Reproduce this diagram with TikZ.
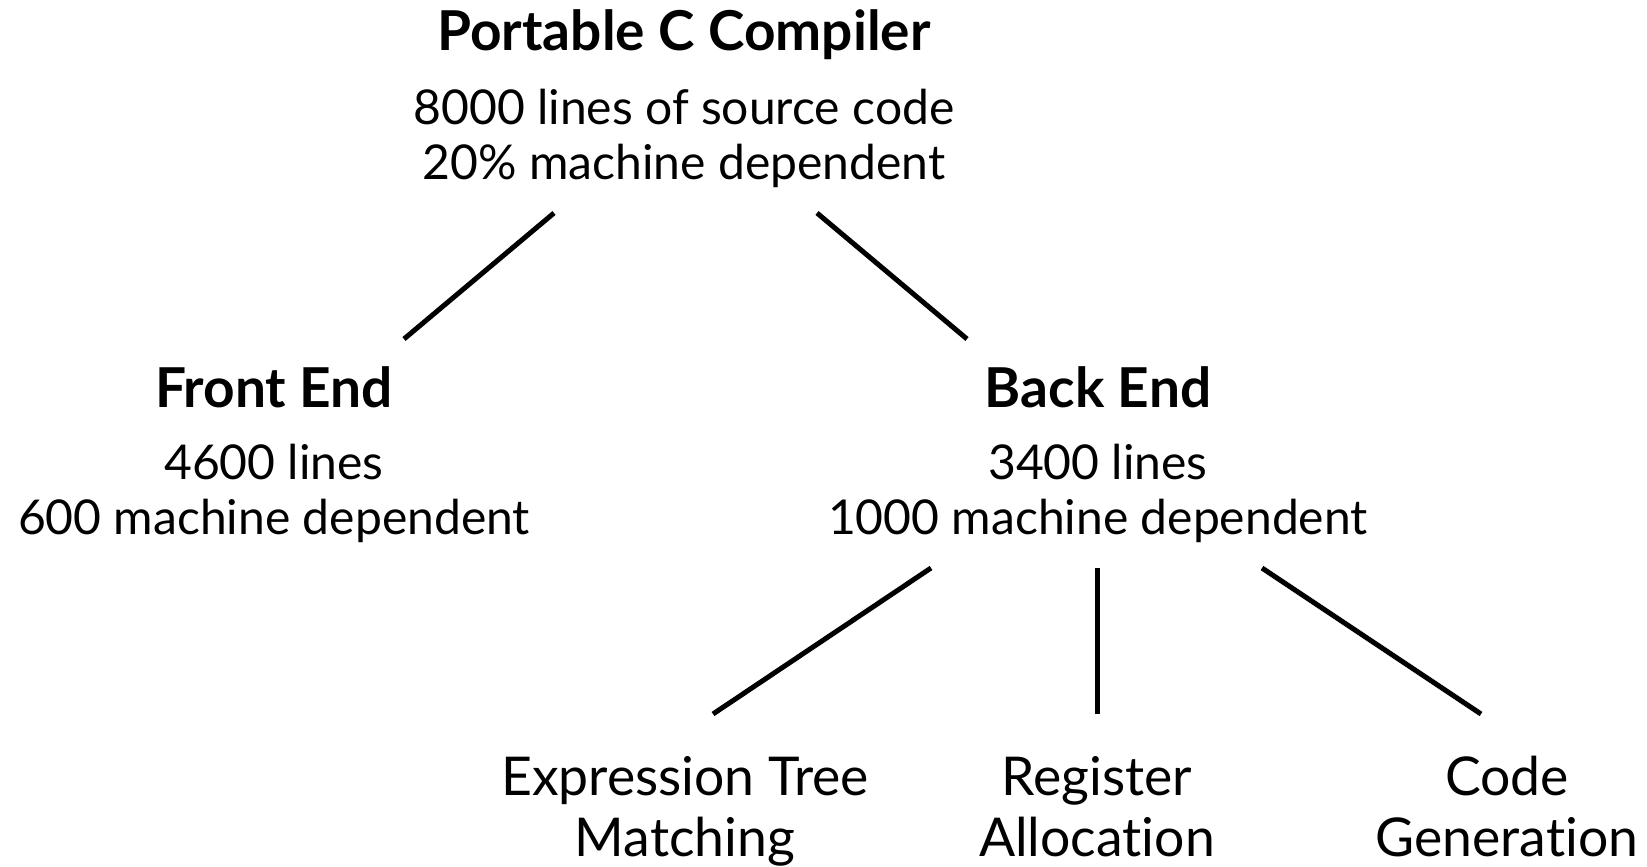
\documentclass[tikz,border=0pt]{standalone}
\usepackage{fontspec}
\setmainfont{Lato}[Ligatures=NoCommon]
\begin{document}
\begin{tikzpicture}[x=1pt,y=-1pt,
  txt/.style={anchor=base,inner sep=0pt,font=\fontsize{48}{55}\selectfont},
  leaf/.style={anchor=base,inner sep=0pt,font=\fontsize{53.5}{60}\selectfont},
  ttl/.style={anchor=base,inner sep=0pt,font=\fontsize{55}{60}\selectfont\bfseries},
  conn/.style={line width=5pt}]
\useasboundingbox (0,0) rectangle (1647,867);
% top
\node[ttl] (pcc) at (684,51) {Portable C Compiler};
\node[txt] (pcc1) at (684,124) {8000 lines of source code};
\node[txt] (pcc2) at (684,179) {20\% machine dependent};
% front end
\node[ttl] (fe) at (274,407) {Front End};
\node[txt] (fe1) at (274,479) {4600 lines};
\node[txt] (fe2) at (274,534) {600 machine dependent};
% back end
\node[ttl] (be) at (1098,407) {Back End};
\node[txt] (be1) at (1098,479) {3400 lines};
\node[txt] (be2) at (1098,534) {1000 machine dependent};
% leaves
\node[leaf] (et1) at (685,795) {Expression Tree};
\node[leaf] (et2) at (685,856) {Matching};
\node[leaf] (ra1) at (1097,795) {Register};
\node[leaf] (ra2) at (1097,856) {Allocation};
\node[leaf] (cg1) at (1507,795) {Code};
\node[leaf] (cg2) at (1507,856) {Generation};
% connector ends
\coordinate (pccL) at (554,213);
\coordinate (pccR) at (817,213);
\coordinate (feT) at (404,339);
\coordinate (beT) at (967,339);
\coordinate (beL) at (931,568);
\coordinate (beM) at (1097,568);
\coordinate (beR) at (1262,568);
\coordinate (etT) at (713,714);
\coordinate (raT) at (1097,714);
\coordinate (cgT) at (1481,714);
\draw[conn] (pccL) -- (feT);
\draw[conn] (pccR) -- (beT);
\draw[conn] (beL) -- (etT);
\draw[conn] (beM) -- (raT);
\draw[conn] (beR) -- (cgT);
\end{tikzpicture}
\end{document}
